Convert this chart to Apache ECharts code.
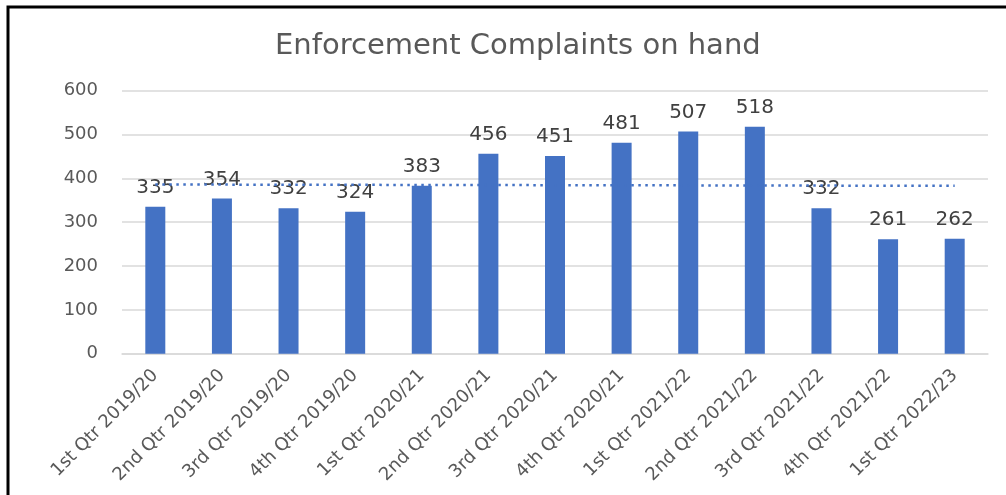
<!DOCTYPE html>
<html>
<head>
<meta charset="utf-8">
<script src="https://cdn.jsdelivr.net/npm/echarts@6/dist/echarts.min.js"></script>
<style>
  html, body { margin: 0; padding: 0; background: #fff; }
  #chart { width: 1006px; height: 495px; }
</style>
</head>
<body>
<div id="chart"></div>
<script>
const categories = ['1st Qtr 2019/20', '2nd Qtr 2019/20', '3rd Qtr 2019/20', '4th Qtr 2019/20',
  '1st Qtr 2020/21', '2nd Qtr 2020/21', '3rd Qtr 2020/21', '4th Qtr 2020/21',
  '1st Qtr 2021/22', '2nd Qtr 2021/22', '3rd Qtr 2021/22', '4th Qtr 2021/22', '1st Qtr 2022/23']
const complaints = [335, 354, 332, 324, 383, 456, 451, 481, 507, 518, 332, 261, 262]
const trend = [386, 383]
const yTicks = [0, 100, 200, 300, 400, 500, 600]

const font = 'DejaVu Sans'
const chart = echarts.init(document.getElementById('chart'))
chart.setOption({
  animation: false,
  backgroundColor: '#fff',
  title: {
    text: 'Enforcement Complaints on hand',
    left: 270,
    top: 27,
    textStyle: { fontFamily: font, fontSize: 29, fontWeight: 'normal', color: '#595959' }
  },
  graphic: [{
    type: 'rect',
    shape: { x: 8, y: 7, width: 1100, height: 600 },
    style: { fill: 'none', stroke: '#000', lineWidth: 3 },
    silent: true
  }],
  grid: { left: 122, right: 18, top: 90.7, bottom: 141.3 },
  xAxis: {
    type: 'category',
    data: categories,
    axisLine: { lineStyle: { color: '#d9d9d9', width: 1.5 } },
    axisTick: { show: false },
    axisLabel: {
      rotate: 45,
      margin: 19,
      interval: 0,
      fontFamily: font,
      fontSize: 18,
      color: '#595959'
    }
  },
  yAxis: {
    type: 'value',
    min: yTicks[0],
    max: yTicks[yTicks.length - 1],
    interval: 100,
    axisLine: { show: false },
    axisTick: { show: false },
    splitLine: { lineStyle: { color: '#d9d9d9', width: 1.5 } },
    axisLabel: { margin: 24, fontFamily: font, fontSize: 18, color: '#595959' }
  },
  series: [{
    type: 'bar',
    data: complaints,
    barWidth: 20,
    itemStyle: { color: '#4472C4' },
    label: {
      show: true,
      position: 'top',
      distance: 9,
      fontFamily: font,
      fontSize: 20,
      color: '#404040'
    },
    markLine: {
      silent: true,
      symbol: 'none',
      label: { show: false },
      lineStyle: { color: '#4472C4', type: [2.5, 4.5], width: 2.5 },
      data: [[{ coord: [0, trend[0]] }, { coord: [categories.length - 1, trend[1]] }]]
    }
  }]
})
</script>
</body>
</html>
